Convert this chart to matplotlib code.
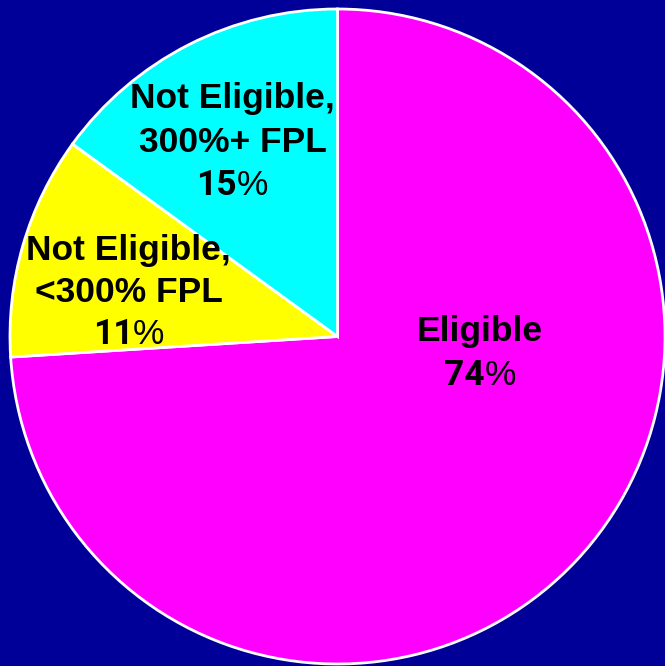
import matplotlib
matplotlib.use("Agg")
import matplotlib.pyplot as plt

categories = ["Eligible", "Not Eligible,\n<300% FPL", "Not Eligible,\n300%+ FPL"]
values = [74, 11, 15]
colors = ["#FF00FF", "#FFFF00", "#00FFFF"]

BG = "#000099"
W, H = 665, 666
fig = plt.figure(figsize=(W / 100, H / 100), dpi=100, facecolor=BG)
ax = fig.add_axes([0, 0, 1, 1])
ax.set_facecolor(BG)

cx, cy, R = 337.5, 336.5, 327.5
ax.pie(values, colors=colors, startangle=90, counterclock=False,
       wedgeprops=dict(edgecolor="white", linewidth=2), radius=1)
ax.set_xlim(-cx / R, (W - cx) / R)
ax.set_ylim(-(H - cy) / R, cy / R)
ax.set_aspect("equal")
ax.axis("off")

def px(x, y):
    return ((x - cx) / R, (cy - y) / R)

FS = 25.5
fam = ["Liberation Sans", "DejaVu Sans"]
numfam = ["Roboto", "Liberation Sans", "DejaVu Sans"]
# label centre x and baseline y (pixels) of each line
centres = [480, 128.5, 232.5]
baselines = [[341, 385], [260, 302, 344], [108, 152, 195]]

pct_pairs = []
for cat, val, xc, bls in zip(categories, values, centres, baselines):
    lines = cat.split("\n")
    for ln, yb in zip(lines, bls):
        ax.text(*px(xc, yb), ln, ha="center", va="baseline", fontsize=FS,
                fontweight="bold", family=fam, color="black")
    yb = bls[-1]
    t1 = ax.text(*px(xc, yb), f"{val}", ha="left", va="baseline", fontsize=FS,
                 fontweight="bold", family=numfam, color="black")
    t2 = ax.text(*px(xc, yb), "%", ha="left", va="baseline", fontsize=FS,
                 fontweight="normal", family=fam, color="black")
    pct_pairs.append((t1, t2, xc, yb))

fig.canvas.draw()
r = fig.canvas.get_renderer()
for t1, t2, xc, yb in pct_pairs:
    w1 = t1.get_window_extent(r).width
    w2 = t2.get_window_extent(r).width
    left = xc - (w1 + w2) / 2
    t1.set_position(px(left, yb))
    t2.set_position(px(left + w1, yb))

fig.savefig("out.png", dpi=100, facecolor=BG)
